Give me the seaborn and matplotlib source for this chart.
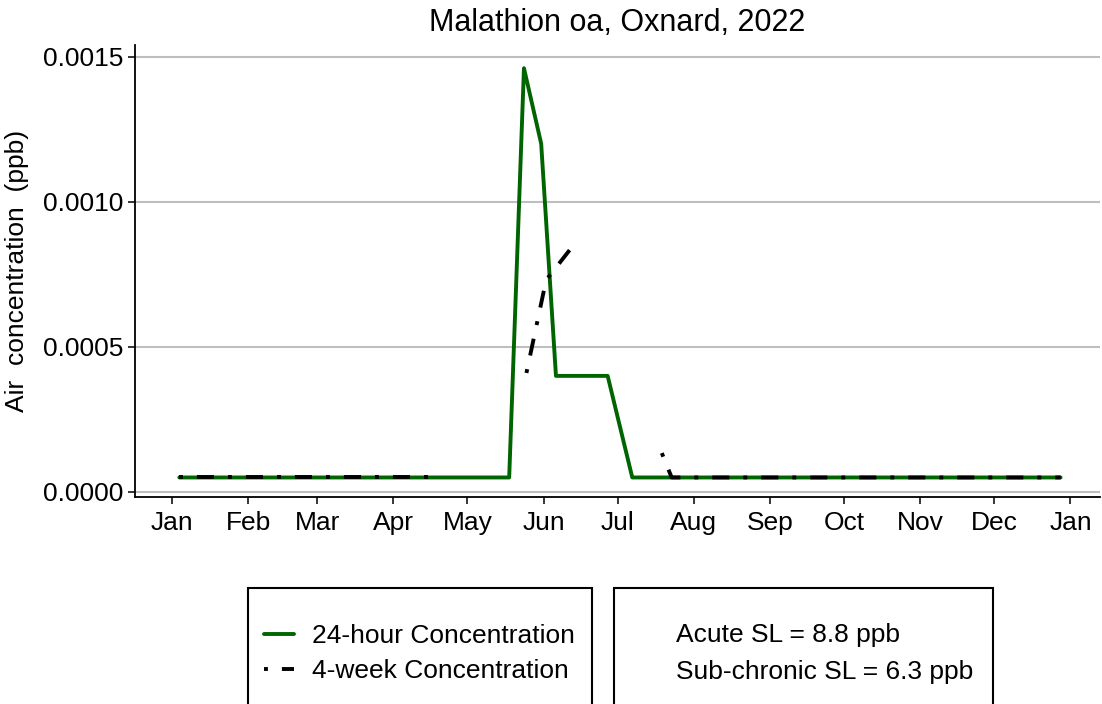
import pandas as pd
import matplotlib.pyplot as plt
import matplotlib.dates as mdates
from matplotlib.patches import Rectangle
import seaborn as sns

# 24-hour samples (vertices)
dates_24h = ["2022-01-04", "2022-05-18", "2022-05-24", "2022-05-31",
             "2022-06-06", "2022-06-27", "2022-07-07", "2022-12-28"]
conc_24h = [0.00005, 0.00005, 0.00146, 0.00120,
            0.00040, 0.00040, 0.00005, 0.00005]

# 4-week samples, split into the separate pieces drawn on the chart
dates_4wk = ["2022-01-04", "2022-04-17",
             "2022-05-25", "2022-06-02", "2022-06-14",
             "2022-07-19", "2022-07-23", "2022-12-28"]
conc_4wk = [0.00005, 0.00005,
            0.00041, 0.00073, 0.00086,
            0.000134, 0.00005, 0.00005]
piece_4wk = [1, 1, 2, 2, 2, 3, 3, 3]

y_ticks = [0.0, 0.0005, 0.0010, 0.0015]

title = "Malathion oa, Oxnard, 2022"
sl_text = ["Acute SL = 8.8 ppb", "Sub-chronic SL = 6.3 ppb"]

df24 = pd.DataFrame({"date": pd.to_datetime(dates_24h), "conc": conc_24h})
df4 = pd.DataFrame({"date": pd.to_datetime(dates_4wk), "conc": conc_4wk,
                    "piece": piece_4wk})

sns.set_theme(style="white")
plt.rcParams["font.family"] = ["Liberation Sans", "DejaVu Sans"]
plt.rcParams["text.color"] = "black"
plt.rcParams["axes.labelcolor"] = "black"
plt.rcParams["xtick.color"] = "black"
plt.rcParams["ytick.color"] = "black"

W, H = 1102, 704
fig = plt.figure(figsize=(W / 100, H / 100), dpi=100)
ax = fig.add_axes([135 / W, 1 - 497 / H, (1100 - 135) / W, (497 - 45) / H])

green = "#006400"
sns.lineplot(data=df24, x="date", y="conc", ax=ax, color=green, lw=2.8,
             label="24-hour Concentration", zorder=3)
sns.lineplot(data=df4, x="date", y="conc", units="piece", estimator=None, ax=ax,
             color="black", lw=2.8, linestyle=(0, (1, 3.6, 4.4, 3.6)),
             label="4-week Concentration", zorder=4)

ax.set_xlim(pd.Timestamp("2021-12-17"), pd.Timestamp("2023-01-13"))
ax.set_ylim(-0.0000173, 0.00154)
ax.xaxis.set_major_locator(mdates.MonthLocator())
ax.xaxis.set_major_formatter(mdates.DateFormatter("%b"))
ax.set_yticks(y_ticks)
ax.set_yticklabels([f"{v:.4f}" for v in y_ticks])

ax.yaxis.grid(True, color="#bebebe", lw=1.5)
ax.xaxis.grid(False)
for s in ["top", "right"]:
    ax.spines[s].set_visible(False)
for s in ["left", "bottom"]:
    ax.spines[s].set_color("black")
    ax.spines[s].set_linewidth(1.3)
ax.tick_params(direction="out", length=5, width=1.1, color="black",
               labelsize=19, left=True, bottom=True)
ax.tick_params(axis="x", pad=5)

ax.set_xlabel("")
ax.set_ylabel("Air  concentration  (ppb)", fontsize=19, labelpad=10)
ax.set_title(title, fontsize=22, pad=10)

handles, labels = ax.get_legend_handles_labels()
uniq = dict(zip(labels, handles))
ax.get_legend().remove()
fig.legend(list(uniq.values()), list(uniq.keys()), loc="center left",
           bbox_to_anchor=(264 / W, 1 - 653.5 / H), frameon=False,
           borderpad=0, borderaxespad=0, handlelength=1.14,
           handletextpad=0.68, labelspacing=0.4, fontsize=19)

# legend boxes (they run off the bottom of the image in the original)
for x0, x1 in [(248, 592), (614, 993)]:
    fig.add_artist(Rectangle((x0 / W, -0.1), (x1 - x0) / W, (1 - 588 / H) + 0.1,
                             transform=fig.transFigure, fill=False,
                             ec="black", lw=1.5))
for i, t in enumerate(sl_text):
    fig.text(676 / W, 1 - (635 + 37 * i) / H, t, va="center", fontsize=19)

fig.savefig("out.png", dpi=100, facecolor="white")
